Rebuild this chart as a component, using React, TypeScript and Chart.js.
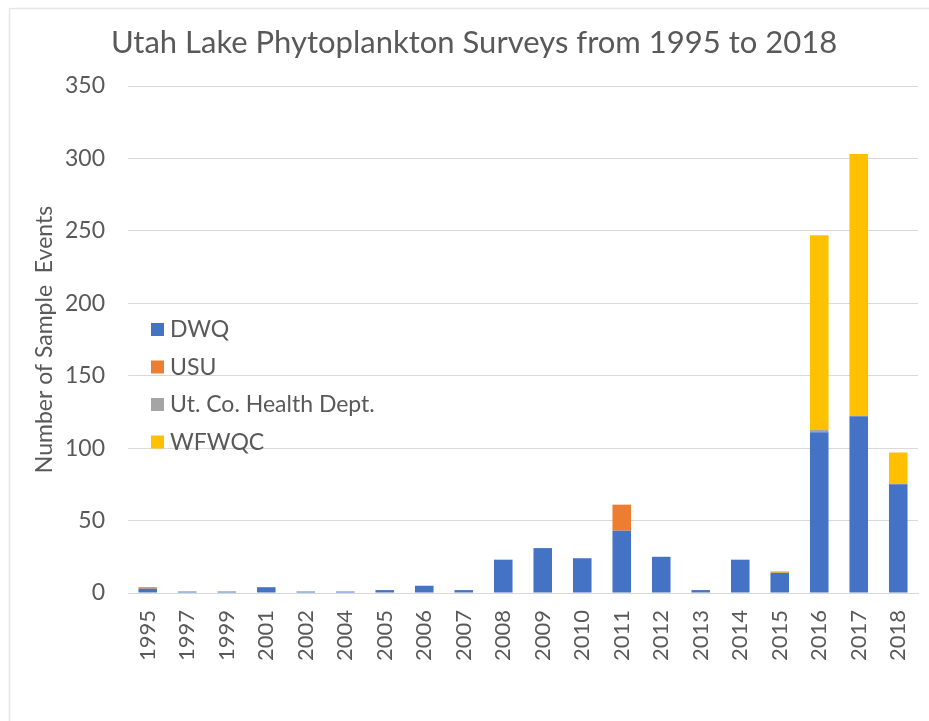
import React, { useEffect, useRef } from "react";
import { Chart, registerables } from "chart.js";
Chart.register(...registerables);

const years = ["1995","1997","1999","2001","2002","2004","2005","2006","2007","2008","2009","2010","2011","2012","2013","2014","2015","2016","2017","2018"];
const dwq = [3,1,1,4,1,1,2,5,2,23,31,24,43,25,2,23,14,111,122,75];
const usu = [1,0,0,0,0,0,0,0,0,0,0,0,18,0,0,0,0,0,0,0];
const health = [0,0,0,0,0,0,0,0,0,0,0,0,0,0,0,0,0,2,0,0];
const wfwqc = [0,0,0,0,0,0,0,0,0,0,0,0,0,0,0,0,1,134,181,22];
const yTicks = [0,50,100,150,200,250,300,350];
const titleText = "Utah Lake Phytoplankton Surveys from 1995 to 2018";

const FONT = "Lato, 'Open Sans', sans-serif";
const GREY = "#595959";

const insideLegend = {
  id: "insideLegend",
  afterDraw(chart: any) {
    const ctx = chart.ctx;
    ctx.save();
    ctx.font = `23px ${FONT}`;
    ctx.textBaseline = "middle";
    chart.data.datasets.forEach((ds: any, i: number) => {
      const y = 329 + i * 37.5;
      ctx.fillStyle = ds.backgroundColor;
      ctx.fillRect(151, y - 6, 13, 13);
      ctx.fillStyle = GREY;
      ctx.fillText(ds.label, 170, y + 1);
    });
    ctx.font = `31px ${FONT}`;
    ctx.textAlign = "center";
    ctx.fillStyle = GREY;
    ctx.fillText(titleText, 474, 43);
    ctx.restore();
  },
};

const frame = {
  id: "frame",
  beforeDraw(chart: any) {
    const ctx = chart.ctx;
    ctx.save();
    ctx.strokeStyle = "#E6E6E6";
    ctx.lineWidth = 1.5;
    ctx.beginPath();
    ctx.moveTo(9.5, 740);
    ctx.lineTo(9.5, 8.5);
    ctx.lineTo(940, 8.5);
    ctx.stroke();
    ctx.restore();
  },
};

export default function App() {
  const ref = useRef<HTMLCanvasElement>(null);
  useEffect(() => {
    document.body.style.margin = "0";
    const chart = new Chart(ref.current!, {
      type: "bar",
      data: {
        labels: years,
        datasets: [
          { label: "DWQ", data: dwq, backgroundColor: "#4472C4" },
          { label: "USU", data: usu, backgroundColor: "#ED7D31" },
          { label: "Ut. Co. Health Dept.", data: health, backgroundColor: "#A5A5A5" },
          { label: "WFWQC", data: wfwqc, backgroundColor: "#FFC000" },
        ],
      },
      options: {
        animation: false,
        responsive: false,
        layout: { padding: { left: 0, right: 0, top: 86, bottom: 0 } },
        datasets: { bar: { barPercentage: 0.47, categoryPercentage: 1 } },
        plugins: {
          legend: { display: false },
          tooltip: { enabled: false },
          title: { display: false },
        },
        scales: {
          x: {
            stacked: true,
            grid: { display: false, drawTicks: false },
            border: { color: "#D9D9D9" },
            afterFit: (s: any) => { s.height = 128; s.paddingRight = 11; },
            ticks: {
              color: GREY,
              font: { family: FONT, size: 22 },
              minRotation: 90,
              maxRotation: 90,
              autoSkip: false,
              padding: 17,
            },
          },
          y: {
            stacked: true,
            min: 0,
            max: 350,
            afterBuildTicks: (s: any) => { s.ticks = yTicks.map((v) => ({ value: v })); },
            afterFit: (s: any) => { s.width = 128; s.paddingTop = 0; },
            grid: { color: "#D9D9D9", drawTicks: false },
            border: { display: false },
            ticks: { color: GREY, font: { family: FONT, size: 23 }, padding: 23 },
            title: {
              display: true,
              text: "Number of Sample  Events",
              color: GREY,
              font: { family: FONT, size: 23 },
              padding: { top: 31, bottom: 0 },
            },
          },
        },
      },
      plugins: [frame, insideLegend],
    });
    return () => chart.destroy();
  }, []);
  return <canvas ref={ref} width={929} height={721} />;
}
